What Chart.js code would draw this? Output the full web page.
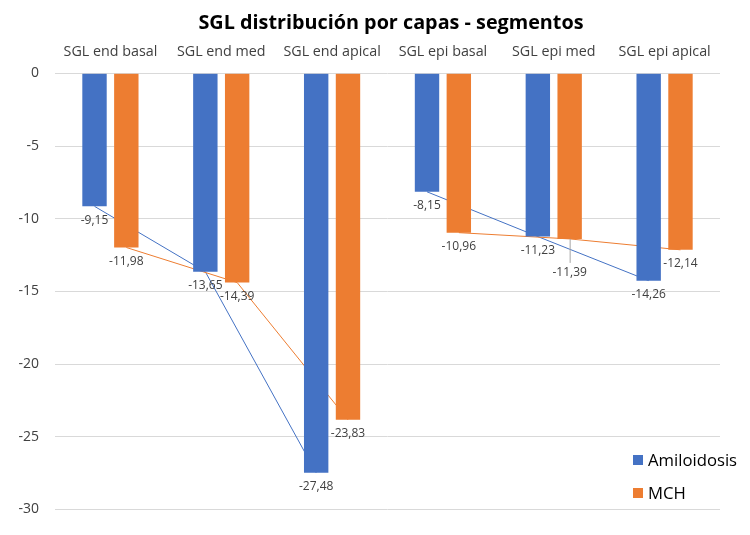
<!DOCTYPE html>
<html>
<head>
<meta charset="utf-8">
<script src="https://cdn.jsdelivr.net/npm/chart.js@4/dist/chart.umd.min.js"></script>
<style>
  html, body { margin: 0; padding: 0; background: #fff; }
  #wrap { position: relative; width: 750px; height: 535px; overflow: hidden; font-family: "Open Sans", "Noto Sans", sans-serif; }
  #title { position: absolute; left: 0; width: 782px; top: 9px; text-align: center; font-weight: bold; font-size: 19.8px; color: #000; line-height: 26px; }
  #legend { position: absolute; left: 633px; top: 443px; font-size: 16.7px; color: #000; }
  .li { display: flex; align-items: center; height: 33px; }
  .sw { width: 10px; height: 10px; margin-right: 5px; }
</style>
</head>
<body>
<div id="wrap">
  <canvas id="c" width="750" height="535"></canvas>
  <div id="title">SGL distribución por capas - segmentos</div>
  <div id="legend"></div>
</div>
<script>
const categories = ['SGL end basal', 'SGL end med', 'SGL end apical', 'SGL epi basal', 'SGL epi med', 'SGL epi apical'];
const amiloidosis = [-9.15, -13.65, -27.48, -8.15, -11.23, -14.26];
const mch = [-11.98, -14.39, -23.83, -10.96, -11.39, -12.14];
const seriesNames = ['Amiloidosis', 'MCH'];
const yMin = -30, yMax = 0, yStep = 5;
const lineGroups = [[0, 1, 2], [3, 4, 5]];

const colors = ['#4472C4', '#ED7D31'];
const FONT = '"Open Sans", "Noto Sans", sans-serif';

// legend (HTML)
const lg = document.getElementById('legend');
seriesNames.forEach((n, i) => {
  const d = document.createElement('div'); d.className = 'li';
  const s = document.createElement('div'); s.className = 'sw'; s.style.background = colors[i];
  const t = document.createElement('span'); t.textContent = n;
  d.appendChild(s); d.appendChild(t); lg.appendChild(d);
});

const fmt = v => v.toFixed(2).replace('.', ',');

const connectorPlugin = {
  id: 'connectors',
  beforeDatasetsDraw(chart) {
    const ctx = chart.ctx;
    chart.data.datasets.forEach((ds, di) => {
      const meta = chart.getDatasetMeta(di);
      ctx.save();
      ctx.strokeStyle = colors[di];
      ctx.lineWidth = 1;
      lineGroups.forEach(g => {
        ctx.beginPath();
        g.forEach((idx, k) => {
          const el = meta.data[idx];
          if (k === 0) ctx.moveTo(el.x, el.y); else ctx.lineTo(el.x, el.y);
        });
        ctx.stroke();
      });
      ctx.restore();
    });
  },
  afterDatasetsDraw(chart) {
    const ctx = chart.ctx;
    ctx.save();
    ctx.font = '12px ' + FONT;
    ctx.fillStyle = '#404040';
    ctx.textAlign = 'center';
    ctx.textBaseline = 'middle';
    chart.data.datasets.forEach((ds, di) => {
      const meta = chart.getDatasetMeta(di);
      meta.data.forEach((el, i) => {
        let off = 14;
        if (di === 1 && i === 4) {
          off = 34;
          ctx.save();
          ctx.strokeStyle = '#A6A6A6';
          ctx.lineWidth = 1;
          ctx.beginPath();
          ctx.moveTo(el.x + 0.5, el.y);
          ctx.lineTo(el.x + 0.5, el.y + off - 10);
          ctx.stroke();
          ctx.restore();
        }
        ctx.fillText(fmt(ds.data[i]), el.x, el.y + off);
      });
    });
    ctx.restore();
  }
};

new Chart(document.getElementById('c'), {
  type: 'bar',
  data: {
    labels: categories,
    datasets: [
      { label: seriesNames[0], data: amiloidosis, backgroundColor: colors[0], barPercentage: 0.767, categoryPercentage: 0.574 },
      { label: seriesNames[1], data: mch, backgroundColor: colors[1], barPercentage: 0.767, categoryPercentage: 0.574 }
    ]
  },
  options: {
    responsive: false,
    animation: false,
    layout: { padding: { left: 0, right: 30, top: 33.3, bottom: 25.5 } },
    plugins: { legend: { display: false }, title: { display: false }, tooltip: { enabled: false } },
    scales: {
      x: {
        position: 'top',
        grid: { display: false, drawTicks: false },
        border: { display: false },
        ticks: { color: '#404040', font: { family: FONT, size: 14.3 }, padding: 13, maxRotation: 0, autoSkip: false },
        afterFit(s) { s.height = 40; }
      },
      y: {
        min: yMin, max: yMax,
        grid: { color: '#D9D9D9', lineWidth: 1, drawTicks: false },
        border: { display: false },
        ticks: { stepSize: yStep, color: '#404040', font: { family: FONT, size: 14 }, padding: 16 },
        afterFit(s) { s.width = 55; }
      }
    }
  },
  plugins: [connectorPlugin]
});
</script>
</body>
</html>
